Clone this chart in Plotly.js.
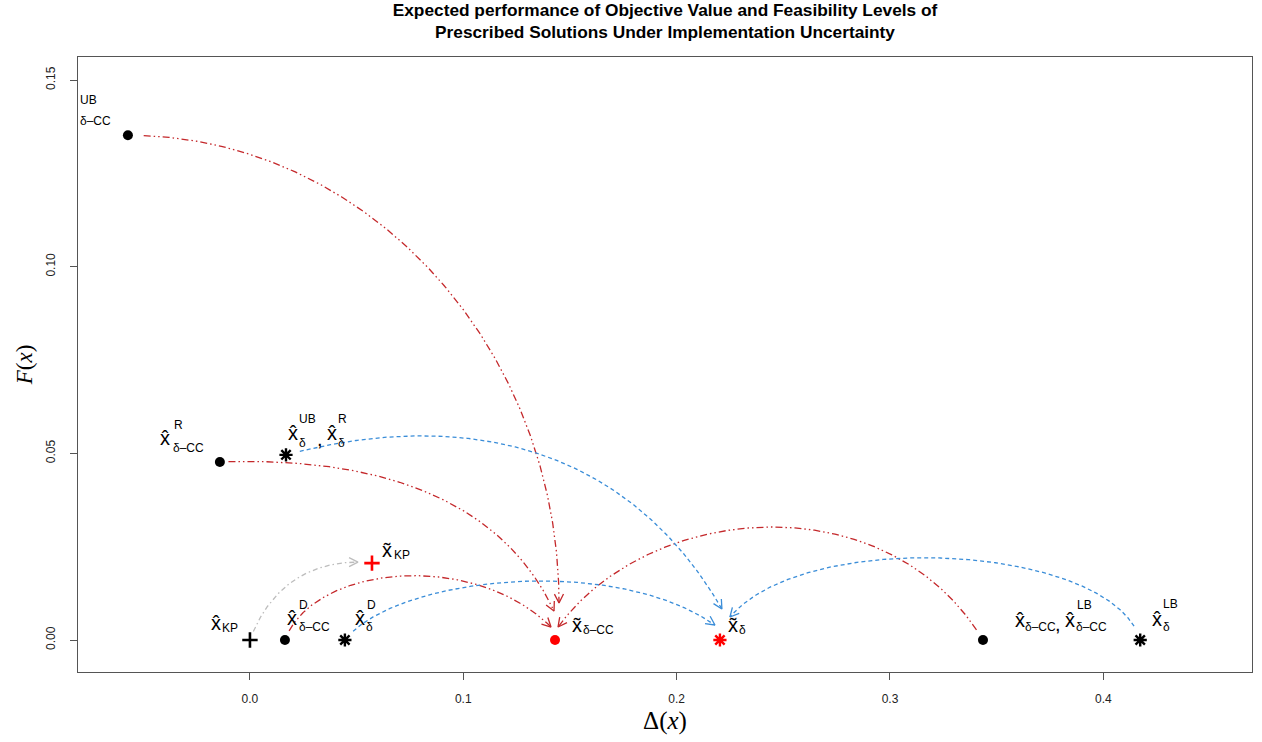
<!DOCTYPE html>
<html><head><meta charset="utf-8">
<script src="https://cdn.plot.ly/plotly-3.0.1.min.js"></script>
<style>html,body{margin:0;padding:0;background:#fff}#chart{width:1262px;height:742px}</style>
</head><body><div id="chart"></div>
<script>
// ---------------- data ----------------
// prescribed delta-CC solutions: UB, R, D, (nominal / LB)
const ccSolX = [-0.0572, -0.0141, 0.0164, 0.3436];
const ccSolY = [0.1352, 0.0477, 0.0, 0.0];
// prescribed delta solutions: UB/R, D, LB
const dSolX = [0.0169, 0.0445, 0.4173];
const dSolY = [0.0496, 0.0, 0.0];
// prescribed KP solution
const kpSolX = [0.0];
const kpSolY = [0.0];
// expected (implemented) solutions
const ccImplX = [0.1430];
const ccImplY = [0.0];
const dImplX = [0.2203];
const dImplY = [0.0];
const kpImplX = [0.0572];
const kpImplY = [0.0206];
// ticks
const xTickVals = [0, 0.1, 0.2, 0.3, 0.4];
const xTickText = ['0.0', '0.1', '0.2', '0.3', '0.4'];
const yTickVals = [0, 0.05, 0.10, 0.15];
const yTickText = ['0.00', '0.05', '0.10', '0.15'];

// ---------------- geometry / styles ----------------
const ML = 78, MR = 10, MT = 57, MB = 70;
const W = 1262 - ML - MR, H = 742 - MT - MB;
const xr = [-0.0806, 0.4697], yr = [-0.00857, 0.15617];
function toPx(x, y) { return [(x - xr[0]) / (xr[1] - xr[0]) * W, H - (y - yr[0]) / (yr[1] - yr[0]) * H]; }
function toData(p) { return [xr[0] + p[0] / W * (xr[1] - xr[0]), yr[0] + (H - p[1]) / H * (yr[1] - yr[0])]; }

const RED = '#C4282B', BLUE = '#3A8DD8', GREY = '#BDBDBD';
const styleCC = { color: RED, dash: '7px,3px,1.5px,3px,1.5px,3px' };
const styleD = { color: BLUE, dash: '4px,3px' };
const styleKP = { color: GREY, dash: '5px,3px,1.5px,3px' };
// curve shape per arrow: [startAngle, endAngle, handle0, handle1, startGap, tipOffsetX, tipOffsetY] (px)
const ccCurve = [[0, -90, 240, 255, 15, 4, -37], [2, -65, 180, 110, 8, -1, -29], [70, -45, 80, 110, 10, -4, -13], [121, 234, 185, 155, 12, 3, -13]];
const dCurve = [[15, -60, 170, 200, 14, 2, -31], [52, -35, 80, 125, 12, -5, -15], [106, 230, 100, 118, 15, 10, -23]];
const kpCurve = [[70, 0, 50, 55, 9, -14, -1]];

function arcTraces(x0, y0, x1, y1, g, st) {
  const [a0, a1, h0, h1, g0, tx, ty] = g;
  const P0 = toPx(x0, y0), T = toPx(x1, y1);
  const P3 = [T[0] + tx, T[1] + ty];
  const r0 = a0 * Math.PI / 180, r1 = a1 * Math.PI / 180;
  const P1 = [P0[0] + h0 * Math.cos(r0), P0[1] - h0 * Math.sin(r0)];
  const P2 = [P3[0] - h1 * Math.cos(r1), P3[1] + h1 * Math.sin(r1)];
  const N = 500, pts = [], s = [0];
  for (let i = 0; i <= N; i++) {
    const t = i / N, u = 1 - t;
    const b0 = u * u * u, b1 = 3 * u * u * t, b2 = 3 * u * t * t, b3 = t * t * t;
    pts.push([b0 * P0[0] + b1 * P1[0] + b2 * P2[0] + b3 * P3[0], b0 * P0[1] + b1 * P1[1] + b2 * P2[1] + b3 * P3[1]]);
    if (i > 0) s.push(s[i - 1] + Math.hypot(pts[i][0] - pts[i - 1][0], pts[i][1] - pts[i - 1][1]));
  }
  const kept = pts.filter((p, i) => s[i] >= g0);
  const tip = kept[kept.length - 1], prev = kept[kept.length - 6];
  let dx = tip[0] - prev[0], dy = tip[1] - prev[1];
  const dl = Math.hypot(dx, dy); dx /= dl; dy /= dl;
  const hl = 10, ha = 27 * Math.PI / 180;
  const rot = (vx, vy, a) => [vx * Math.cos(a) - vy * Math.sin(a), vx * Math.sin(a) + vy * Math.cos(a)];
  const w1 = rot(-dx, -dy, ha), w2 = rot(-dx, -dy, -ha);
  const head = [[tip[0] + hl * w1[0], tip[1] + hl * w1[1]], tip, [tip[0] + hl * w2[0], tip[1] + hl * w2[1]]];
  const kd = kept.map(toData), hd = head.map(toData);
  return [
    { type: 'scatter', mode: 'lines', x: kd.map(p => p[0]), y: kd.map(p => p[1]), line: { color: st.color, width: 1.3, dash: st.dash }, hoverinfo: 'skip' },
    { type: 'scatter', mode: 'lines', x: hd.map(p => p[0]), y: hd.map(p => p[1]), line: { color: st.color, width: 1.3 }, hoverinfo: 'skip' }
  ];
}

let traces = [];
ccSolX.forEach((x, i) => { traces = traces.concat(arcTraces(x, ccSolY[i], ccImplX[0], ccImplY[0], ccCurve[i], styleCC)); });
dSolX.forEach((x, i) => { traces = traces.concat(arcTraces(x, dSolY[i], dImplX[0], dImplY[0], dCurve[i], styleD)); });
kpSolX.forEach((x, i) => { traces = traces.concat(arcTraces(x, kpSolY[i], kpImplX[0], kpImplY[0], kpCurve[i], styleKP)); });

function markerTrace(xs, ys, sym, size, color, lw) {
  return { type: 'scatter', mode: 'markers', x: xs, y: ys, cliponaxis: false,
    marker: { symbol: sym, size: size, color: color, line: { color: color, width: lw } }, hoverinfo: 'skip' };
}
traces.push(markerTrace(ccSolX, ccSolY, 'circle', 10, '#000', 0));
traces.push(markerTrace(dSolX, dSolY, 'asterisk-open', 11, '#000', 2.4));
traces.push(markerTrace(kpSolX, kpSolY, 'cross-thin-open', 11, '#000', 2.6));
traces.push(markerTrace(ccImplX, ccImplY, 'circle', 10, '#FF0000', 0));
traces.push(markerTrace(dImplX, dImplY, 'asterisk-open', 11, '#FF0000', 2.4));
traces.push(markerTrace(kpImplX, kpImplY, 'cross-thin-open', 11, '#FF0000', 2.6));

// ---------------- labels ----------------
const HAT = 'x\u0302', TIL = 'x\u0303', DCC = '\u03b4\u2013CC', DEL = '\u03b4';
const BIG = 20, SMALL = 12;
// [anchorX, anchorY, index, text, size, dx, dy, xanchor]
const labelParts = [
  [ccSolX, ccSolY, 0, 'UB', SMALL, -49, -35, 'left'],
  [ccSolX, ccSolY, 0, DCC, SMALL, -49, -14, 'left'],
  [ccSolX, ccSolY, 1, HAT, BIG, -55, -24, 'center'],
  [ccSolX, ccSolY, 1, 'R', SMALL, -47, -37, 'left'],
  [ccSolX, ccSolY, 1, DCC, SMALL, -48, -14, 'left'],
  [dSolX, dSolY, 0, HAT, BIG, 7, -22, 'center'],
  [dSolX, dSolY, 0, 'UB', SMALL, 12, -36, 'left'],
  [dSolX, dSolY, 0, DEL, SMALL, 12, -12, 'left'],
  [dSolX, dSolY, 0, ',', BIG, 34, -16, 'center'],
  [dSolX, dSolY, 0, HAT, BIG, 46, -22, 'center'],
  [dSolX, dSolY, 0, 'R', SMALL, 51, -36, 'left'],
  [dSolX, dSolY, 0, DEL, SMALL, 51, -12, 'left'],
  [kpImplX, kpImplY, 0, TIL, BIG, 15, -13, 'center'],
  [kpImplX, kpImplY, 0, 'KP', SMALL, 21, -8, 'left'],
  [kpSolX, kpSolY, 0, HAT, BIG, -34, -17, 'center'],
  [kpSolX, kpSolY, 0, 'KP', SMALL, -29, -12, 'left'],
  [ccSolX, ccSolY, 2, HAT, BIG, 7, -22, 'center'],
  [ccSolX, ccSolY, 2, 'D', SMALL, 13, -35, 'left'],
  [ccSolX, ccSolY, 2, DCC, SMALL, 13, -13, 'left'],
  [dSolX, dSolY, 1, HAT, BIG, 15, -22, 'center'],
  [dSolX, dSolY, 1, 'D', SMALL, 21, -35, 'left'],
  [dSolX, dSolY, 1, DEL, SMALL, 20, -13, 'left'],
  [ccImplX, ccImplY, 0, TIL, BIG, 22, -15, 'center'],
  [ccImplX, ccImplY, 0, DCC, SMALL, 27, -10, 'left'],
  [dImplX, dImplY, 0, TIL, BIG, 13, -15, 'center'],
  [dImplX, dImplY, 0, DEL, SMALL, 18, -10, 'left'],
  [ccSolX, ccSolY, 3, HAT, BIG, 37, -20, 'center'],
  [ccSolX, ccSolY, 3, DCC, SMALL, 41, -13, 'left'],
  [ccSolX, ccSolY, 3, ',', BIG, 75, -16, 'center'],
  [ccSolX, ccSolY, 3, HAT, BIG, 87, -20, 'center'],
  [ccSolX, ccSolY, 3, 'LB', SMALL, 93, -35, 'left'],
  [ccSolX, ccSolY, 3, DCC, SMALL, 92, -13, 'left'],
  [dSolX, dSolY, 2, HAT, BIG, 17, -21, 'center'],
  [dSolX, dSolY, 2, 'LB', SMALL, 22, -36, 'left'],
  [dSolX, dSolY, 2, DEL, SMALL, 22, -13, 'left']
];
const annotations = labelParts.map(p => ({
  x: p[0][p[2]], y: p[1][p[2]], xref: 'x', yref: 'y', text: p[3], showarrow: false,
  font: { family: 'Liberation Sans, Arial, sans-serif', size: p[4], color: '#000' },
  xanchor: p[7], yanchor: 'middle', xshift: p[5], yshift: -p[6], borderpad: 0
}));

const axisCommon = {
  showgrid: false, zeroline: false, showline: true, mirror: true, linecolor: '#555', linewidth: 1,
  ticks: 'outside', ticklen: 7, tickcolor: '#555', tickwidth: 1,
  tickfont: { family: 'Liberation Sans, Arial, sans-serif', size: 12, color: '#222' }
};
const layout = {
  width: 1262, height: 742,
  margin: { l: ML, r: MR, t: MT, b: MB },
  paper_bgcolor: '#fff', plot_bgcolor: '#fff',
  showlegend: false, hovermode: false,
  title: {
    text: '<b>Expected performance of Objective Value and Feasibility Levels of<br>Prescribed Solutions Under Implementation Uncertainty</b>',
    font: { family: 'Liberation Sans, Arial, sans-serif', size: 17.3, color: '#000' },
    x: 0.5, xref: 'paper', xanchor: 'center', y: 1 - 15.5 / 742, yref: 'container', yanchor: 'middle'
  },
  xaxis: Object.assign({}, axisCommon, {
    range: xr, tickvals: xTickVals, ticktext: xTickText, ticklabelstandoff: 9,
    title: { text: '\u0394(<i>x</i>)', font: { family: 'Liberation Serif, serif', size: 25, color: '#000' }, standoff: 6 }
  }),
  yaxis: Object.assign({}, axisCommon, {
    range: yr, tickvals: yTickVals, ticktext: yTickText, tickangle: -90, ticklabelstandoff: 10,
    title: { text: '<i>F</i>(<i>x</i>)', font: { family: 'Liberation Serif, serif', size: 23, color: '#000' }, standoff: 5 }
  }),
  annotations: annotations
};
Plotly.newPlot('chart', traces, layout, { displayModeBar: false, staticPlot: true });
</script>
</body></html>
